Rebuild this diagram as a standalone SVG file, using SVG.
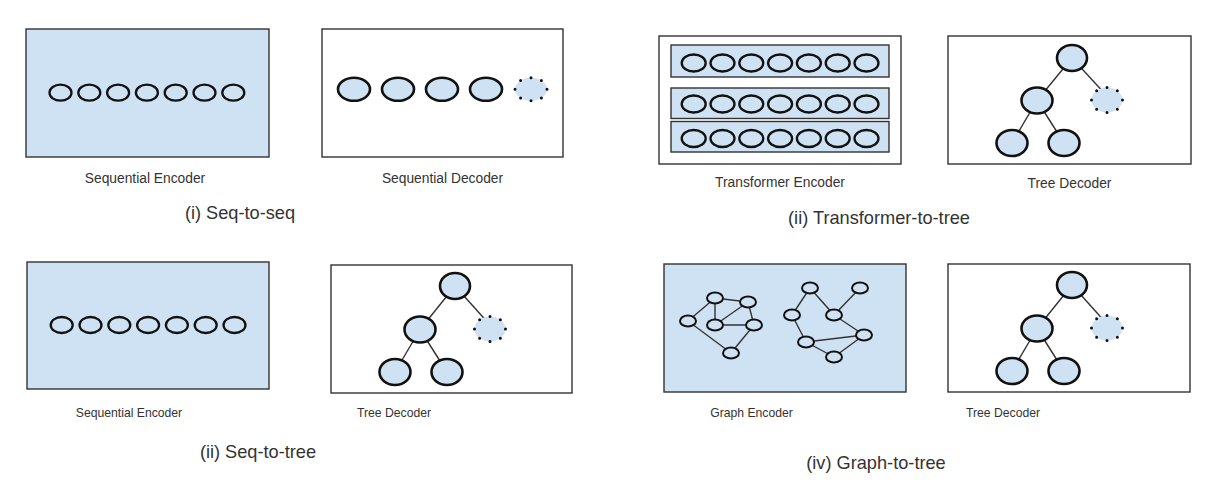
<svg xmlns="http://www.w3.org/2000/svg" width="1208" height="498" viewBox="0 0 1208 498">
<style>
  .panel{stroke:#333;stroke-width:1.4}
  .blue{fill:#cfe2f3}
  .white{fill:#ffffff}
  .tok{fill:none;stroke:#111;stroke-width:2.3}
  .ttok{fill:#cfe2f3;stroke:#111;stroke-width:2.3}
  .node{fill:#cfe2f3;stroke:#111;stroke-width:2.6}
  .dot{fill:#cfe2f3;stroke:#111;stroke-width:3;stroke-linecap:round;stroke-dasharray:0 1}
  .gnode{fill:#cfe2f3;stroke:#111;stroke-width:2}
  .edge{stroke:#333;stroke-width:1.4;fill:none}
  .lbl{font-family:"Liberation Sans",Arial,sans-serif;fill:#333;text-anchor:middle}
  .s14{font-size:13.8px}
  .s12{font-size:12.2px}
  .s18{font-size:18.2px}
</style>
<rect width="1208" height="498" fill="#ffffff"/>

<!-- (i) Seq-to-seq -->
<g id="seq-encoder-1">
  <rect class="panel blue" x="26" y="29" width="243" height="128"/>
  <ellipse class="tok" cx="60.5" cy="92.7" rx="11" ry="8"/>
  <ellipse class="tok" cx="89.3" cy="92.7" rx="11" ry="8"/>
  <ellipse class="tok" cx="118.1" cy="92.7" rx="11" ry="8"/>
  <ellipse class="tok" cx="146.9" cy="92.7" rx="11" ry="8"/>
  <ellipse class="tok" cx="175.7" cy="92.7" rx="11" ry="8"/>
  <ellipse class="tok" cx="204.5" cy="92.7" rx="11" ry="8"/>
  <ellipse class="tok" cx="233.3" cy="92.7" rx="11" ry="8"/>
  <text class="lbl s14" x="145" y="182.5">Sequential Encoder</text>
</g>
<g id="seq-decoder">
  <rect class="panel white" x="322" y="29" width="241" height="128"/>
  <ellipse class="node" cx="354" cy="89.3" rx="16" ry="11.5"/>
  <ellipse class="node" cx="398" cy="89.3" rx="16" ry="11.5"/>
  <ellipse class="node" cx="442" cy="89.3" rx="16" ry="11.5"/>
  <ellipse class="node" cx="486" cy="89.3" rx="16" ry="11.5"/>
  <ellipse class="dot" pathLength="8" cx="531" cy="89.3" rx="16" ry="11.5"/>
  <text class="lbl s14" x="442.5" y="182.5">Sequential Decoder</text>
</g>
<text class="lbl s18" x="240" y="219">(i) Seq-to-seq</text>

<!-- (ii) Transformer-to-tree -->
<g id="transformer-encoder">
  <rect class="panel white" x="659" y="36" width="242" height="128"/>
  <rect class="panel blue" x="671" y="45" width="218" height="32"/>
  <rect class="panel blue" x="671" y="88" width="218" height="30.5"/>
  <rect class="panel blue" x="671" y="121.5" width="218" height="30.5"/>
  <g>
    <ellipse class="ttok" cx="693.7" cy="63" rx="12" ry="8.5"/>
    <ellipse class="ttok" cx="722.5" cy="63" rx="12" ry="8.5"/>
    <ellipse class="ttok" cx="751.3" cy="63" rx="12" ry="8.5"/>
    <ellipse class="ttok" cx="780.1" cy="63" rx="12" ry="8.5"/>
    <ellipse class="ttok" cx="808.9" cy="63" rx="12" ry="8.5"/>
    <ellipse class="ttok" cx="837.7" cy="63" rx="12" ry="8.5"/>
    <ellipse class="ttok" cx="866.5" cy="63" rx="12" ry="8.5"/>
  </g>
  <g>
    <ellipse class="ttok" cx="693.7" cy="104" rx="12" ry="8.5"/>
    <ellipse class="ttok" cx="722.5" cy="104" rx="12" ry="8.5"/>
    <ellipse class="ttok" cx="751.3" cy="104" rx="12" ry="8.5"/>
    <ellipse class="ttok" cx="780.1" cy="104" rx="12" ry="8.5"/>
    <ellipse class="ttok" cx="808.9" cy="104" rx="12" ry="8.5"/>
    <ellipse class="ttok" cx="837.7" cy="104" rx="12" ry="8.5"/>
    <ellipse class="ttok" cx="866.5" cy="104" rx="12" ry="8.5"/>
  </g>
  <g>
    <ellipse class="ttok" cx="693.7" cy="138.5" rx="12" ry="8.5"/>
    <ellipse class="ttok" cx="722.5" cy="138.5" rx="12" ry="8.5"/>
    <ellipse class="ttok" cx="751.3" cy="138.5" rx="12" ry="8.5"/>
    <ellipse class="ttok" cx="780.1" cy="138.5" rx="12" ry="8.5"/>
    <ellipse class="ttok" cx="808.9" cy="138.5" rx="12" ry="8.5"/>
    <ellipse class="ttok" cx="837.7" cy="138.5" rx="12" ry="8.5"/>
    <ellipse class="ttok" cx="866.5" cy="138.5" rx="12" ry="8.5"/>
  </g>
  <text class="lbl s14" x="780" y="187">Transformer Encoder</text>
</g>
<g id="tree-decoder-1">
  <rect class="panel white" x="948" y="36" width="243" height="128"/>
  <text class="lbl s14" x="1069.5" y="188">Tree Decoder</text>
</g>
<text class="lbl s18" x="879" y="224">(ii) Transformer-to-tree</text>

<!-- (ii) Seq-to-tree -->
<g id="seq-encoder-2">
  <rect class="panel blue" x="27" y="262" width="242" height="127"/>
  <ellipse class="tok" cx="61.7" cy="325" rx="11" ry="8"/>
  <ellipse class="tok" cx="90.5" cy="325" rx="11" ry="8"/>
  <ellipse class="tok" cx="119.3" cy="325" rx="11" ry="8"/>
  <ellipse class="tok" cx="148.1" cy="325" rx="11" ry="8"/>
  <ellipse class="tok" cx="176.9" cy="325" rx="11" ry="8"/>
  <ellipse class="tok" cx="205.7" cy="325" rx="11" ry="8"/>
  <ellipse class="tok" cx="234.5" cy="325" rx="11" ry="8"/>
  <text class="lbl s12" x="129" y="417">Sequential Encoder</text>
</g>
<g id="tree-decoder-2">
  <rect class="panel white" x="331" y="265" width="241" height="128"/>
  <text class="lbl s12" x="394" y="417">Tree Decoder</text>
</g>
<text class="lbl s18" x="258" y="458">(ii) Seq-to-tree</text>

<!-- (iv) Graph-to-tree -->
<g id="graph-encoder">
  <rect class="panel blue" x="664" y="264" width="242" height="128"/>
  <text class="lbl s12" x="751.5" y="417">Graph Encoder</text>
</g>
<g id="tree-decoder-3">
  <rect class="panel white" x="948" y="264" width="242" height="128"/>
  <text class="lbl s12" x="1003" y="417">Tree Decoder</text>
</g>
<text class="lbl s18" x="876" y="469">(iv) Graph-to-tree</text>

<!-- connectors -->
<g id="connectors">
  <g transform="translate(948,36)">
    <line class="edge" x1="124" y1="22" x2="89" y2="64.5"/>
    <line class="edge" x1="124" y1="22" x2="159" y2="60"/>
    <line class="edge" x1="89" y1="64.5" x2="64" y2="107"/>
    <line class="edge" x1="89" y1="64.5" x2="116" y2="107"/>
  </g>
  <g transform="translate(331,265)">
    <line class="edge" x1="124" y1="21" x2="89" y2="64.5"/>
    <line class="edge" x1="124" y1="21" x2="159" y2="60"/>
    <line class="edge" x1="89" y1="64.5" x2="64" y2="107"/>
    <line class="edge" x1="89" y1="64.5" x2="116" y2="107"/>
  </g>
  <g transform="translate(948,264)">
    <line class="edge" x1="124" y1="21" x2="89" y2="64.5"/>
    <line class="edge" x1="124" y1="21" x2="159" y2="60"/>
    <line class="edge" x1="89" y1="64.5" x2="64" y2="107"/>
    <line class="edge" x1="89" y1="64.5" x2="116" y2="107"/>
  </g>
  <g>
    <line class="edge" x1="688" y1="321" x2="715" y2="298"/>
    <line class="edge" x1="715" y1="298" x2="715" y2="325"/>
    <line class="edge" x1="715" y1="298" x2="748" y2="302"/>
    <line class="edge" x1="715" y1="325" x2="748" y2="302"/>
    <line class="edge" x1="715" y1="325" x2="754" y2="325"/>
    <line class="edge" x1="748" y1="302" x2="754" y2="325"/>
    <line class="edge" x1="688" y1="321" x2="731" y2="353"/>
    <line class="edge" x1="731" y1="353" x2="754" y2="325"/>
    <line class="edge" x1="810" y1="288" x2="792" y2="315"/>
    <line class="edge" x1="810" y1="288" x2="834" y2="315"/>
    <line class="edge" x1="860" y1="288" x2="834" y2="315"/>
    <line class="edge" x1="834" y1="315" x2="864" y2="335"/>
    <line class="edge" x1="792" y1="315" x2="806" y2="342"/>
    <line class="edge" x1="806" y1="342" x2="864" y2="335"/>
    <line class="edge" x1="806" y1="342" x2="834" y2="357"/>
    <line class="edge" x1="834" y1="357" x2="864" y2="335"/>
  </g>
</g>

<!-- tree and graph nodes -->
<g id="tree-nodes-1" transform="translate(948,36)">
  <ellipse class="node" cx="124" cy="22" rx="15" ry="13"/>
  <ellipse class="node" cx="89" cy="64.5" rx="15.5" ry="13"/>
  <ellipse class="dot" pathLength="8" cx="159" cy="64" rx="15.5" ry="12.5"/>
  <ellipse class="node" cx="64" cy="107" rx="15.5" ry="13"/>
  <ellipse class="node" cx="116" cy="107" rx="15.5" ry="13"/>
</g>
<g id="tree-nodes-2" transform="translate(331,265)">
  <ellipse class="node" cx="124" cy="21" rx="15" ry="13"/>
  <ellipse class="node" cx="89" cy="64.5" rx="15.5" ry="13"/>
  <ellipse class="dot" pathLength="8" cx="159" cy="64" rx="15.5" ry="12.5"/>
  <ellipse class="node" cx="64" cy="107" rx="15.5" ry="13"/>
  <ellipse class="node" cx="116" cy="107" rx="15.5" ry="13"/>
</g>
<g id="tree-nodes-3" transform="translate(948,264)">
  <ellipse class="node" cx="124" cy="21" rx="15" ry="13"/>
  <ellipse class="node" cx="89" cy="64.5" rx="15.5" ry="13"/>
  <ellipse class="dot" pathLength="8" cx="159" cy="64" rx="15.5" ry="12.5"/>
  <ellipse class="node" cx="64" cy="107" rx="15.5" ry="13"/>
  <ellipse class="node" cx="116" cy="107" rx="15.5" ry="13"/>
</g>
<g id="graph-nodes">
  <ellipse class="gnode" cx="715" cy="298" rx="8" ry="5.5"/>
  <ellipse class="gnode" cx="748" cy="302" rx="8" ry="5.5"/>
  <ellipse class="gnode" cx="688" cy="321" rx="8" ry="5.5"/>
  <ellipse class="gnode" cx="715" cy="325" rx="8" ry="5.5"/>
  <ellipse class="gnode" cx="754" cy="325" rx="8" ry="5.5"/>
  <ellipse class="gnode" cx="731" cy="353" rx="8" ry="5.5"/>
  <ellipse class="gnode" cx="810" cy="288" rx="8" ry="5.5"/>
  <ellipse class="gnode" cx="860" cy="288" rx="8" ry="5.5"/>
  <ellipse class="gnode" cx="792" cy="315" rx="8" ry="5.5"/>
  <ellipse class="gnode" cx="834" cy="315" rx="8" ry="5.5"/>
  <ellipse class="gnode" cx="864" cy="335" rx="8" ry="5.5"/>
  <ellipse class="gnode" cx="806" cy="342" rx="8" ry="5.5"/>
  <ellipse class="gnode" cx="834" cy="357" rx="8" ry="5.5"/>
</g>
</svg>
